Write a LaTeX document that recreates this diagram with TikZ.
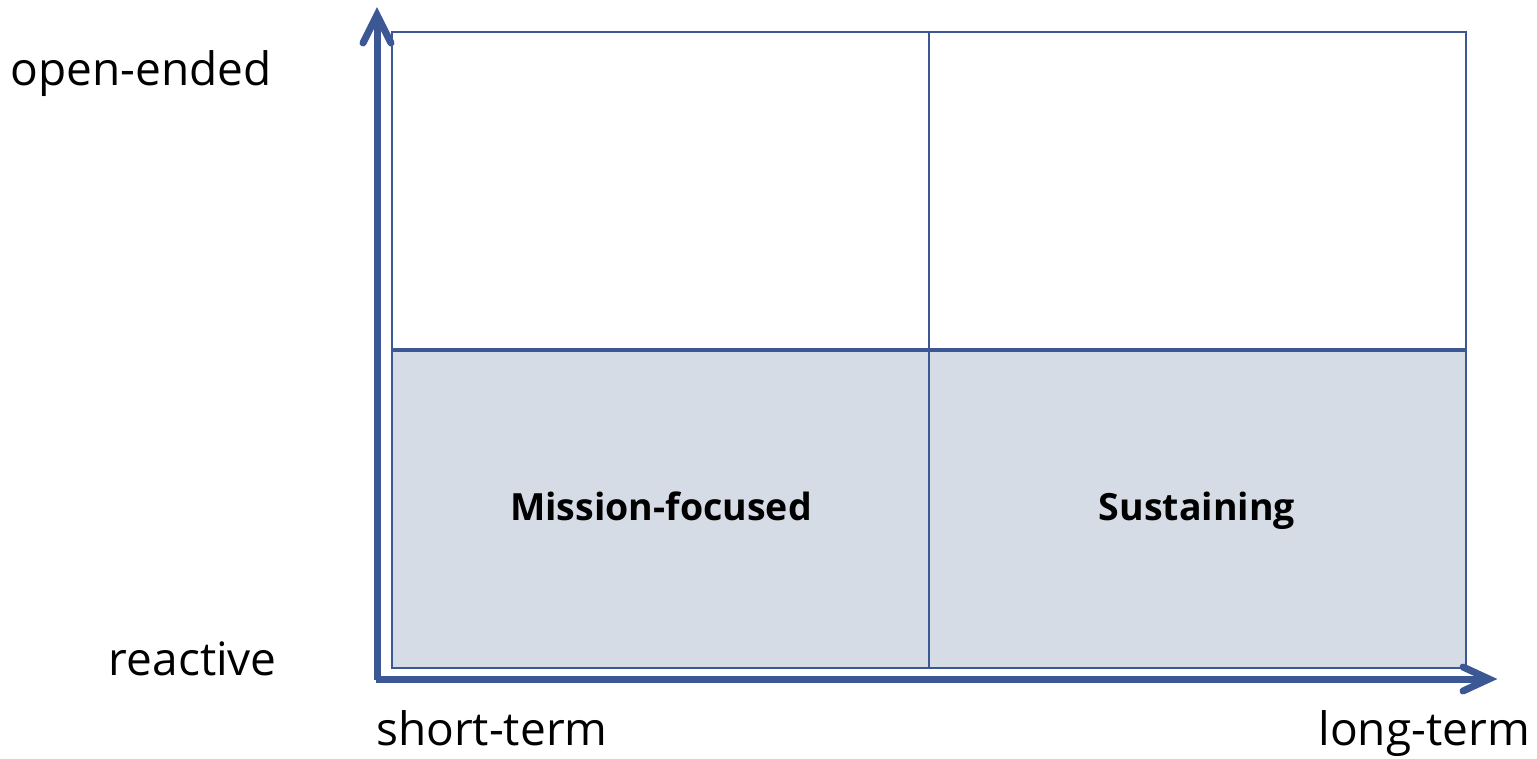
\documentclass[tikz,border=0pt]{standalone}
\usepackage{fontspec}
\setmainfont{Open Sans}
\definecolor{axisblue}{RGB}{59,87,148}
\definecolor{cellfill}{RGB}{214,220,229}
\begin{document}
\begin{tikzpicture}[x=1pt,y=-1pt,
  cell/.style={draw=axisblue, line width=2pt, minimum width=537pt, minimum height=318pt, inner sep=0pt, outer sep=0pt},
  axisline/.style={draw=axisblue, line width=7pt},
  headline/.style={draw=axisblue, line width=7pt, line cap=round, line join=miter},
  axlabel/.style={inner sep=0pt, font=\fontsize{46}{50}\selectfont},
  celllabel/.style={inner sep=0pt, font=\fontsize{37.5}{42}\selectfont\bfseries}]
\useasboundingbox (0,0) rectangle (1537,758);
% cells
\node[cell, anchor=north west] (tl) at (392,32) {};
\node[cell, anchor=north west] (tr) at (929,32) {};
\node[cell, anchor=north west, fill=cellfill] (bl) at (392,350) {};
\node[cell, anchor=north west, fill=cellfill] (br) at (929,350) {};
\draw[draw=axisblue, line width=4.5pt] (bl.north west) -- (br.north east);
% axes
\coordinate (origin) at (377,679);
\coordinate (ytip) at (377,15);
\coordinate (xtip) at (1489,679);
\coordinate (yl) at (363,43);
\coordinate (yr) at (391,43);
\coordinate (xu) at (1463,667);
\coordinate (xd) at (1463,691);
\draw[axisline] ([yshift=-1pt]origin) -- (ytip);
\draw[axisline] ([xshift=-1pt]origin) -- (xtip);
\draw[headline] (yl) -- (ytip) -- (yr);
\draw[headline] (xu) -- (xtip) -- (xd);
% labels
\node[axlabel, anchor=base east] (open) at (272,85) {open-ended};
\node[axlabel, anchor=base east] (react) at (277,675) {reactive};
\node[axlabel, anchor=base west] (short) at (376,745) {short-term};
\node[axlabel, anchor=base east] (long) at (1530,745) {long-term};
\node[celllabel, anchor=base] (mission) at (661,520) {Mission-focused};
\node[celllabel, anchor=base] (sust) at (1197,520) {Sustaining};
\end{tikzpicture}
\end{document}
